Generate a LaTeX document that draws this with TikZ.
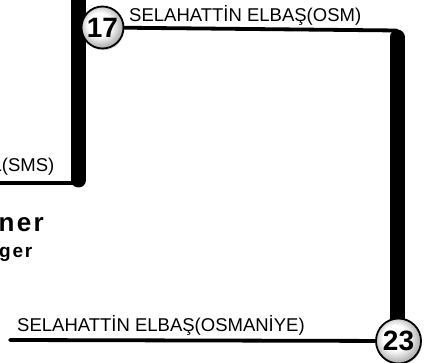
\documentclass[tikz,border=0pt]{standalone}
\usepackage{fontspec}
\setmainfont{Liberation Sans}
\usetikzlibrary{shadows}
\pgfdeclareradialshading{stopshade}{\pgfpoint{-5bp}{5bp}}{color(0bp)=(white); color(14bp)=(white); color(25bp)=(black!28); color(50bp)=(black!28)}
\begin{document}
\begin{tikzpicture}[x=1pt, y=-1pt,
    stopball/.style={circle, draw=black, line width=1.8pt, shading=stopshade,
      minimum size=42pt, inner sep=0pt, font=\fontsize{28}{28}\selectfont\bfseries,
      drop shadow={opacity=0.35, shadow xshift=0.8pt, shadow yshift=-1.8pt}},
    trackbar/.style={line width=15pt, line cap=round},
    trackline/.style={line width=3.8pt, line cap=round},
    stationname/.style={inner sep=0pt, font=\fontsize{18.5}{18.5}\selectfont}]
    \useasboundingbox (0,0) rectangle (433,363);

    %––––– left part –––––
    \coordinate (l0) at (-10,183);
    \coordinate (l1) at (78.5,183);
    \coordinate (l2) at (78.5,180);
    \coordinate (l3) at (78.5,-20);
    \draw[trackbar] (l3) -- (l2);
    \draw[trackline] (l0) -- (l1);
    \node (sms) at (54.5,172) [stationname, anchor=base east] {L(SMS)};

    %––––– top part –––––
    \coordinate (r0) at (397,30.5);
    \coordinate (r1) at (397,37);
    \node (s17) at (102.5,27.5) [stopball] {17};
    \draw[trackline] (s17) -- (r0);
    \node (osm) at (129,22) [stationname, anchor=base west] {SELAHATTİN ELBAŞ(OSM)};

    %––––– right part –––––
    \coordinate (r2) at (397,330);
    \draw[trackbar] (r1) -- (r2);
    \node (s23) at (398.5,341) [stopball, minimum size=45pt] {23};

    %––––– bottom part –––––
    \coordinate (b0) at (10,340);
    \draw[trackline] (b0) -- (s23);
    \node (osmaniye) at (17,331) [stationname, anchor=base west] {SELAHATTİN ELBAŞ(OSMANİYE)};

    %––––– title –––––
    \node (ner) at (-1.5,231) [inner sep=0pt, anchor=base west, font=\fontsize{26}{26}\selectfont\bfseries\addfontfeatures{LetterSpace=9}] {ner};
    \node (ger) at (-1,257) [inner sep=0pt, anchor=base west, font=\fontsize{19}{19}\selectfont\bfseries\addfontfeatures{LetterSpace=9}] {ger};
  \end{tikzpicture}
\end{document}
